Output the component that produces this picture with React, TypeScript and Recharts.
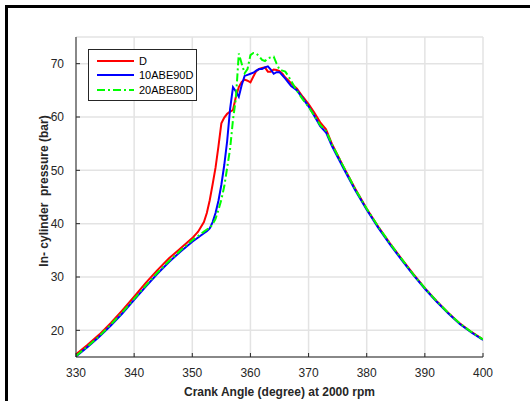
import { CartesianGrid, Legend, Line, LineChart, XAxis, YAxis } from "recharts";

const angles = [
  330, 332, 334, 336, 338, 340, 342, 344, 346, 348,
  350, 351, 352,
  352.5, 353, 353.5, 354, 354.5, 355, 355.5, 356, 356.5, 357,
  357.5, 358, 358.5, 359, 359.5, 360, 360.5, 361, 361.5, 362,
  362.5, 363, 363.5, 364, 364.5, 365, 365.5, 366, 366.5, 367,
  367.5, 368, 369, 370, 371, 372, 373, 374,
  376, 378, 380, 382, 384, 386, 388, 390, 392, 394, 396, 398, 400,
];

const dieselD = [
  15.5, 17.3, 19.2, 21.4, 23.8, 26.3, 28.9, 31.3, 33.5, 35.4,
  37.3, 38.5, 40.3,
  42.0, 44.4, 47.4, 50.5, 54.5, 58.8, 59.9, 60.6, 61.0, 61.3,
  63.8, 65.6, 66.6, 67.0, 66.8, 66.5, 67.6, 68.6, 69.0, 69.2,
  69.3, 68.5, 68.5, 68.9, 68.8, 68.6, 68.1, 67.4, 66.9, 66.3,
  65.8, 65.3, 63.8, 62.4, 60.8, 59.0, 57.7, 55.0,
  50.7, 46.6, 42.8, 39.4, 36.3, 33.4, 30.6, 27.9, 25.5, 23.3, 21.3, 19.7, 18.3,
];

const abe10 = [
  15.1, 16.9, 18.8, 20.9, 23.2, 25.7, 28.2, 30.6, 32.8, 34.8,
  36.6, 37.4, 38.2,
  38.6, 39.1, 40.3, 42.0, 44.3, 47.3, 51.0, 55.5, 61.5, 65.6,
  64.8, 63.8, 66.0, 67.7, 67.9, 68.1, 68.3, 68.7, 69.0, 69.0,
  69.3, 69.5, 68.9, 68.1, 68.4, 68.4, 67.8, 67.2, 66.5, 65.8,
  65.4, 65.0, 63.5, 62.0, 60.2, 58.3, 57.1, 54.6,
  50.4, 46.3, 42.6, 39.2, 36.1, 33.2, 30.4, 27.8, 25.4, 23.2, 21.2, 19.6, 18.2,
];

const abe20 = [
  15.2, 17.0, 18.9, 21.1, 23.4, 25.9, 28.4, 30.8, 33.0, 35.0,
  36.9, 37.7, 38.5,
  38.9, 39.2, 39.9, 40.9, 42.6, 44.5, 47.0, 50.5, 54.0, 59.5,
  63.5, 71.9, 70.0, 68.2, 69.0, 71.6, 72.0, 71.9, 71.4, 70.7,
  70.5, 71.0, 71.2, 71.3, 70.0, 68.9, 68.7, 68.5, 67.7, 66.8,
  65.8, 64.9, 63.3, 61.9, 60.2, 58.5, 57.4, 54.9,
  50.7, 46.5, 42.8, 39.4, 36.3, 33.4, 30.5, 27.9, 25.5, 23.3, 21.3, 19.7, 18.3,
];

const xTicks = [330, 340, 350, 360, 370, 380, 390, 400];
const yTicks = [20, 30, 40, 50, 60, 70];

const series = [
  { key: "D", name: "D", color: "#ff0000", dash: undefined },
  { key: "b10", name: "10ABE90D", color: "#0000ff", dash: undefined },
  { key: "b20", name: "20ABE80D", color: "#00ff00", dash: "8 3 2 3" },
];

const rows = angles.map((a, i) => ({ angle: a, D: dieselD[i], b10: abe10[i], b20: abe20[i] }));

const ink = "#262626";
const font = "'Liberation Sans', Arial, sans-serif";

function LegendBox() {
  return (
    <div
      style={{
        border: `1px solid ${ink}`,
        background: "#fff",
        boxSizing: "border-box",
        width: 109,
        height: 52,
        padding: "4px 0 0 8px",
        fontFamily: font,
        fontSize: 11,
        color: "#000",
      }}
    >
      {series.map((s) => (
        <div key={s.key} style={{ display: "flex", alignItems: "center", height: 14.3 }}>
          <svg width={37} height={4} style={{ marginRight: 5 }}>
            <line x1={0} y1={2} x2={37} y2={2} stroke={s.color} strokeWidth={2} strokeDasharray={s.dash} />
          </svg>
          <span>{s.name}</span>
        </div>
      ))}
    </div>
  );
}

export default function App() {
  return (
    <div style={{ position: "relative", width: 530, height: 401, background: "#fff" }}>
      <style>{"body{margin:0}"}</style>
      <div
        style={{
          position: "absolute",
          left: 5,
          top: 5,
          right: 0,
          bottom: 0,
          borderTop: "3px solid #000",
          borderLeft: "3px solid #000",
        }}
      />
      <LineChart
        width={530}
        height={401}
        data={rows}
        margin={{ top: 37, right: 47, bottom: 3, left: 12 }}
        style={{ position: "absolute", left: 0, top: 0, fontFamily: font }}
      >
        <CartesianGrid stroke="#e3e3e3" strokeWidth={1.5} />
        <XAxis
          dataKey="angle"
          type="number"
          domain={[330, 400]}
          ticks={xTicks}
          allowDataOverflow
          height={41}
          tickSize={-4}
          tickMargin={15}
          stroke={ink}
          tick={{ fontSize: 12, fill: ink }}
          label={{
            value: "Crank Angle (degree) at 2000 rpm",
            position: "insideBottom",
            offset: 2,
            style: { fontSize: 12, fontWeight: "bold", fill: ink },
          }}
        />
        <XAxis
          xAxisId="top"
          orientation="top"
          type="number"
          domain={[330, 400]}
          ticks={xTicks}
          height={0}
          tickSize={-4}
          tick={false}
          stroke={ink}
        />
        <YAxis
          type="number"
          domain={[15, 75]}
          ticks={yTicks}
          allowDataOverflow
          width={64}
          tickSize={-4}
          tickMargin={16}
          stroke={ink}
          tick={{ fontSize: 12, fill: ink }}
          label={{
            value: "In- cylinder\u00a0 pressure (bar)",
            angle: -90,
            position: "center",
            dy: -6,
            style: { fontSize: 12, fontWeight: "bold", fill: ink },
          }}
        />
        <YAxis
          yAxisId="right"
          orientation="right"
          type="number"
          domain={[15, 75]}
          ticks={yTicks}
          width={0}
          tickSize={-4}
          tick={false}
          stroke={ink}
        />
        <Legend
          layout="horizontal"
          verticalAlign="middle"
          align="center"
          content={() => <LegendBox />}
          wrapperStyle={{ left: 88, top: 49, width: 109, height: 52 }}
        />
        {series.map((s) => (
          <Line
            key={s.key}
            dataKey={s.key}
            name={s.name}
            type="linear"
            stroke={s.color}
            strokeWidth={2}
            strokeDasharray={s.dash}
            dot={false}
            isAnimationActive={false}
          />
        ))}
      </LineChart>
    </div>
  );
}
